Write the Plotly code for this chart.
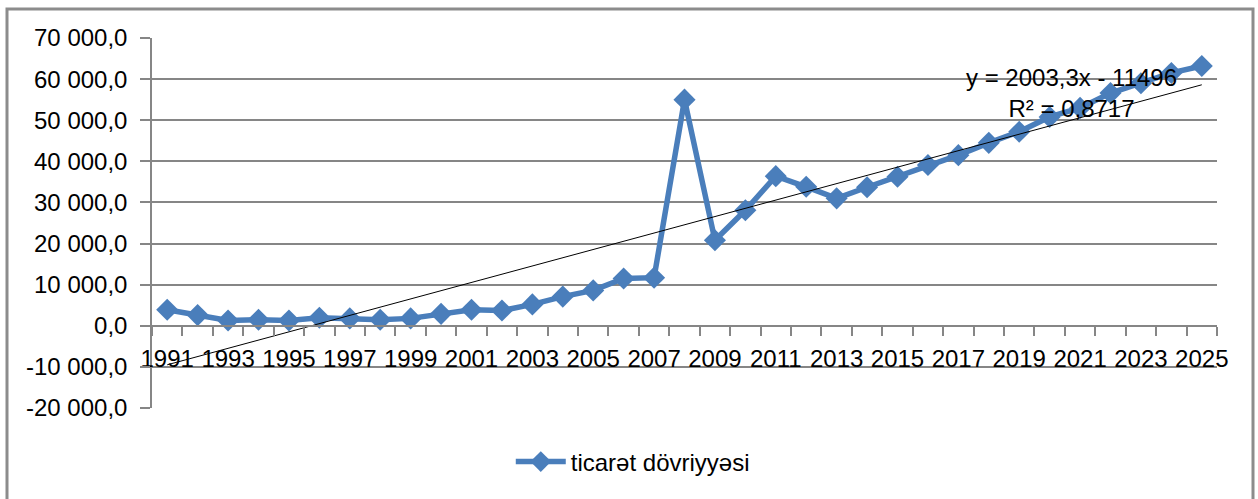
import plotly.graph_objects as go

years = list(range(1991, 2026))
trade_turnover = [
    3900, 2600, 1300, 1450, 1300, 1950, 1800, 1450, 1800, 2900,
    3900, 3700, 5200, 7100, 8600, 11500, 11700,
    55000, 20800, 28100, 36400, 33800, 31000, 33700, 36250,
    39100, 41500, 44500, 47200, 50800, 53000, 56600, 59000, 61500, 63200,
]
series_name = "ticarət dövriyyəsi"

trend_slope = 2003.3
trend_intercept = -11496
trend_r2_text = "0,8717"
trend_eq_text = "y = 2003,3x - 11496"

y_tick_values = [-20000, -10000, 0, 10000, 20000, 30000, 40000, 50000, 60000, 70000]
y_tick_labels = ["-20 000,0", "-10 000,0", "0,0", "10 000,0", "20 000,0",
                 "30 000,0", "40 000,0", "50 000,0", "60 000,0", "70 000,0"]
x_tick_values = years[::2]
x_tick_labels = [str(y) for y in x_tick_values]

trend_x = list(range(1, len(years) + 1))
trend_y = [trend_slope * i + trend_intercept for i in trend_x]

BLUE = "#4A7EBB"
GRID = "#868686"
FONT = "Liberation Sans, Arial, sans-serif"

fig = go.Figure()
fig.add_trace(go.Scatter(
    x=years, y=trade_turnover, name=series_name, mode="lines+markers",
    line=dict(color=BLUE, width=5.5),
    marker=dict(symbol="diamond", size=17, color=BLUE),
))
fig.add_trace(go.Scatter(
    x=years, y=trend_y, mode="lines", showlegend=False,
    line=dict(color="#000000", width=1),
))

fig.update_layout(
    width=1258, height=499,
    margin=dict(l=152, r=41, t=38, b=91, autoexpand=False),
    paper_bgcolor="white", plot_bgcolor="white",
    font=dict(family=FONT, size=24, color="#000000"),
    showlegend=True,
    legend=dict(orientation="h", xref="container", yref="container",
                x=0.503, xanchor="center", y=1 - 462 / 499, yanchor="middle",
                font=dict(size=24), bgcolor="rgba(0,0,0,0)", itemwidth=50),
    xaxis=dict(
        range=[1990.5, 2025.5], anchor="free", position=20000 / 90000,
        tickvals=x_tick_values, ticktext=x_tick_labels,
        ticks="", showgrid=False, zeroline=False,
        showline=True, linecolor=GRID, linewidth=1.5,
        ticklabelstandoff=12,
        minor=dict(tick0=1990.5, dtick=1, ticks="outside", ticklen=9,
                   tickcolor=GRID, tickwidth=1.5, showgrid=False),
        tickfont=dict(size=24, color="#000000"),
    ),
    yaxis=dict(
        range=[-20000, 70000], tickvals=y_tick_values, ticktext=y_tick_labels,
        showgrid=True, gridcolor=GRID, gridwidth=1.5, zeroline=False,
        showline=True, linecolor=GRID, linewidth=1.5,
        ticks="outside", ticklen=10, tickcolor=GRID, tickwidth=1.5,
        ticklabelstandoff=8,
        tickfont=dict(size=24, color="#000000"),
    ),
    annotations=[dict(
        xref="paper", yref="paper", x=(1071 - 152) / 1065, y=(408 - 93) / 370,
        xanchor="center", yanchor="middle", showarrow=False, align="center",
        text=trend_eq_text + "<br>R² = " + trend_r2_text,
        font=dict(size=24, color="#000000"),
    )],
    shapes=[dict(
        type="rect", xref="paper", yref="paper",
        x0=(7 - 152) / 1065, x1=(1253 - 152) / 1065,
        y0=(408 - 510) / 370, y1=(408 - 9) / 370,
        line=dict(color="#8C8C8C", width=3), fillcolor="rgba(0,0,0,0)", layer="below",
    )],
)

fig.write_html("out.html", config={"displayModeBar": False},
               post_script="document.body.style.margin='0';")
